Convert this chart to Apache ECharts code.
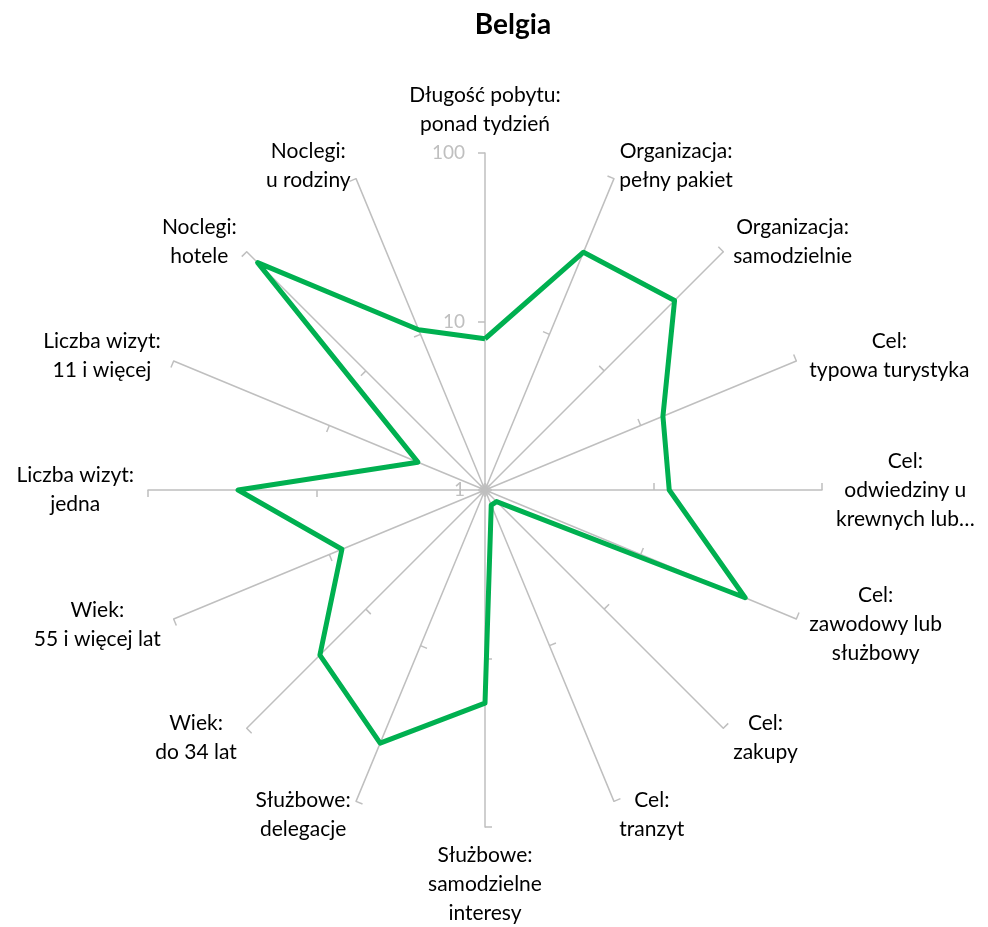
<!DOCTYPE html>
<html>
<head>
<meta charset="utf-8">
<script src="https://cdn.jsdelivr.net/npm/echarts@6/dist/echarts.min.js"></script>
<style>
html,body{margin:0;padding:0;background:#fff;}
#chart{width:988px;height:927px;}
</style>
</head>
<body>
<div id="chart"></div>
<script>
// Categories in clockwise order starting from the top
const categories = [
  'Długość pobytu:\nponad tydzień',
  'Organizacja:\npełny pakiet',
  'Organizacja:\nsamodzielnie',
  'Cel:\ntypowa turystyka',
  'Cel:\nodwiedziny u\nkrewnych lub…',
  'Cel:\nzawodowy lub\nsłużbowy',
  'Cel:\nzakupy',
  'Cel:\ntranzyt',
  'Służbowe:\nsamodzielne\ninteresy',
  'Służbowe:\ndelegacje',
  'Wiek:\ndo 34 lat',
  'Wiek:\n55 i więcej lat',
  'Liczba wizyt:\njedna',
  'Liczba wizyt:\n11 i więcej',
  'Noclegi:\nhotele',
  'Noclegi:\nu rodziny'
];
const belgiaValues = [7.9, 33.7, 39, 13.9, 12.4, 46.9, 1.25, 1.25, 18.4, 42.3, 24.3, 8.3, 29.2, 2.7, 81, 10.7];
const axisMin = 1;
const axisMax = 100;
const tickLabels = ['1', '10', '100'];

const CENTER = [485, 490];
const RADIUS = 337;
const FONT = 'Lato';

// Radar (spokes, ticks, category names) runs counter-clockwise: reorder so it reads clockwise
const order = [0].concat(categories.map((_, i) => i).slice(1).reverse());
const indicators = order.map(i => ({ name: categories[i], min: axisMin, max: axisMax }));

// Polar line data: [radius(value), angle(index)], closed back to the first category
const polarData = belgiaValues.map((v, i) => [v, i]);
polarData.push([belgiaValues[0], categories.length]);

const chart = echarts.init(document.getElementById('chart'), null, { renderer: 'canvas' });

const tickStyle = { color: '#bfbfbf', width: 1.5 };

const option = {
  backgroundColor: '#ffffff',
  title: {
    text: 'Belgia',
    left: 508,
    top: 6,
    textAlign: 'center',
    textStyle: { fontFamily: FONT, fontSize: 28, fontWeight: 'bold', color: '#000' }
  },
  radar: [
    {
      center: CENTER,
      radius: RADIUS,
      startAngle: 90,
      splitNumber: 2,
      shape: 'polygon',
      indicator: indicators,
      axisName: {
        show: true,
        color: '#000',
        fontFamily: FONT,
        fontSize: 21,
        lineHeight: 29,
        formatter: function (name) {
          return name.split('\n').map(s => '{c|' + s + '}').join('\n');
        },
        rich: {
          c: { align: 'center', fontFamily: FONT, fontSize: 21, lineHeight: 29, color: '#000' }
        }
      },
      nameGap: 14,
      splitLine: { show: false },
      splitArea: { show: false },
      axisLine: { show: true, lineStyle: { color: '#bfbfbf', width: 1.5 } },
      axisTick: { show: true, length: 7, lineStyle: tickStyle },
      axisLabel: { show: false }
    },
    {
      center: CENTER,
      radius: RADIUS,
      startAngle: 90,
      splitNumber: 2,
      shape: 'polygon',
      indicator: indicators,
      axisName: { show: false },
      splitLine: { show: false },
      splitArea: { show: false },
      axisLine: { show: false },
      axisTick: { show: true, inside: true, length: 7, lineStyle: tickStyle },
      axisLabel: { show: false }
    }
  ],
  polar: {
    center: CENTER,
    radius: RADIUS
  },
  angleAxis: {
    type: 'value',
    min: 0,
    max: categories.length,
    interval: 1,
    startAngle: 90,
    clockwise: true,
    axisLine: { show: false },
    axisTick: { show: false },
    axisLabel: { show: false },
    splitLine: { show: false }
  },
  radiusAxis: {
    type: 'log',
    logBase: 10,
    min: axisMin,
    max: axisMax,
    axisLine: { show: false },
    axisTick: { show: false },
    splitLine: { show: false },
    axisLabel: {
      show: true,
      color: '#bfbfbf',
      fontFamily: FONT,
      fontSize: 19,
      margin: 20,
      formatter: function (v) {
        const idx = Math.round(Math.log10(v));
        return tickLabels[idx] !== undefined ? tickLabels[idx] : '';
      }
    }
  },
  series: [{
    type: 'line',
    name: 'Belgia',
    coordinateSystem: 'polar',
    symbol: 'none',
    silent: true,
    lineStyle: { color: '#00b050', width: 5, join: 'round' },
    data: polarData
  }]
};

chart.setOption(option);
</script>
</body>
</html>
